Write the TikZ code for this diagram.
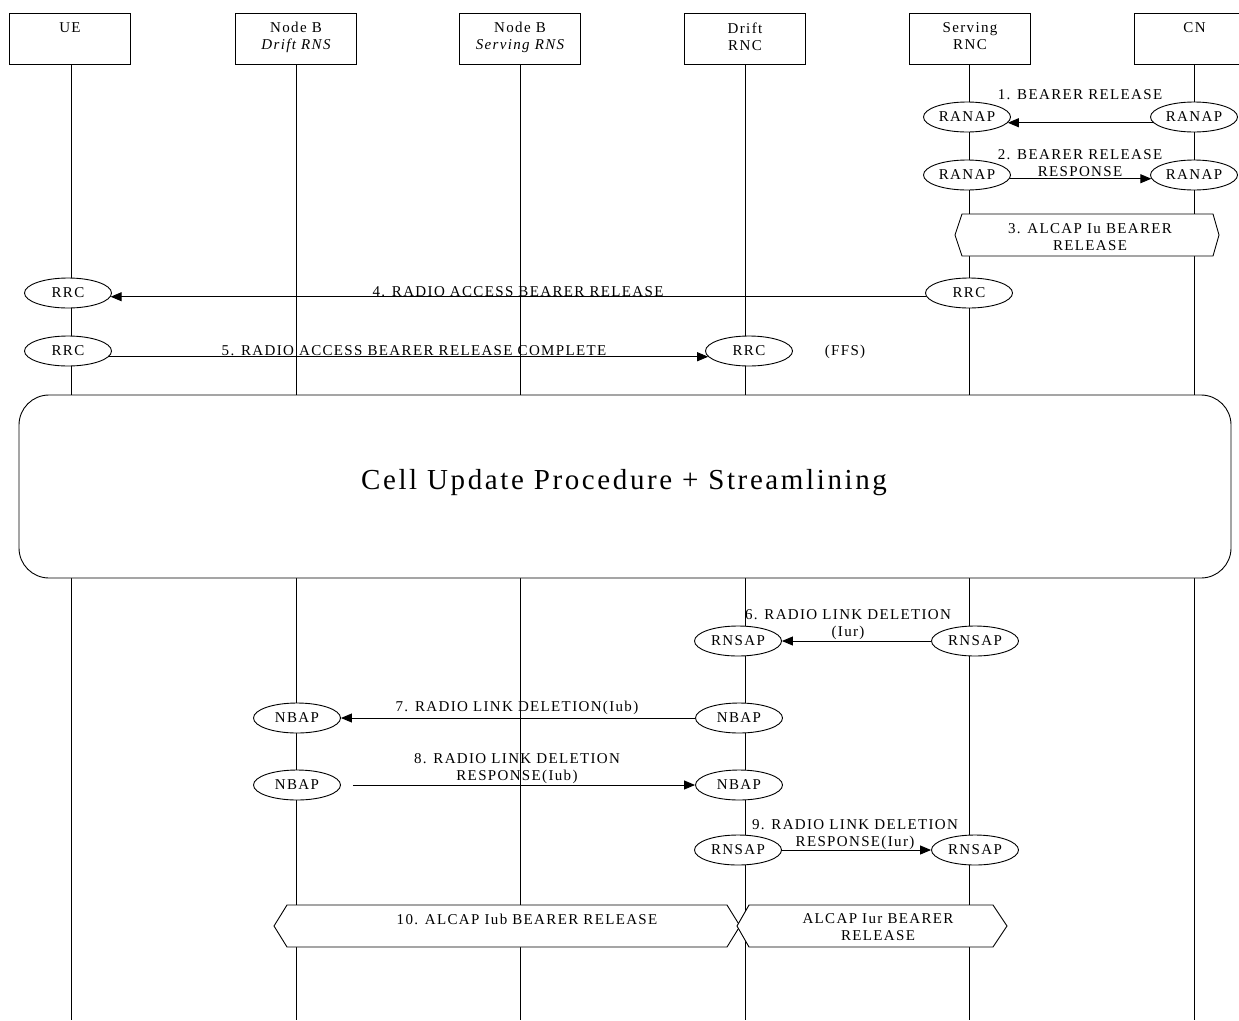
\documentclass[tikz,border=0pt]{standalone}
\usepackage{fontspec}
\setmainfont{Liberation Serif}[LetterSpace=9]
\usetikzlibrary{arrows.meta,shapes.geometric}
\begin{document}
\begin{tikzpicture}[x=1pt,y=-1pt,
  font=\fontsize{15}{17}\selectfont,
  every path/.style={line width=0.9pt},
  actor/.style={draw, fill=white, minimum width=121pt, minimum height=51pt, inner sep=0pt},
  atext/.style={anchor=north, align=center, inner sep=0pt},
  proto/.style={ellipse, draw, fill=white, minimum width=87pt, minimum height=30pt, inner sep=0pt},
  msg/.style={-{Triangle[length=11pt,width=9pt]}},
  lbl/.style={anchor=north, align=center, inner sep=0pt},
  slbl/.style={anchor=base, inner sep=0pt},
  hexa/.style={draw, fill=white},
]
\useasboundingbox (0,0) rectangle (1239,1020);

% actors
\node[actor] (ue) at (70,38.5) {};
\node[actor] (nbd) at (296,38.5) {};
\node[actor] (nbs) at (520,38.5) {};
\node[actor] (drnc) at (745,38.5) {};
\node[actor] (srnc) at (970,38.5) {};
\node[actor] (cn) at (1194.5,38.5) {};
\node[atext] (uet) at (70,22) {UE};
\node[atext] (nbdt) at (296,22) {Node B\\\itshape Drift RNS};
\node[atext] (nbst) at (520,22) {Node B\\\itshape Serving RNS};
\node[atext] (drnct) at (745,22) {Drift\\RNC};
\node[atext] (srnct) at (970,22) {Serving\\RNC};
\node[atext] (cnt) at (1194.5,22) {CN};

% lifelines
\foreach \x in {71,296,520,745,969,1194}{
  \draw (\x,64) -- (\x,1020);
}

% big procedure box
\node[draw, fill=white, rounded corners=30pt, minimum width=1212pt, minimum height=183pt, inner sep=0pt] (cup) at (625,486.5) {};
\node[anchor=base, inner sep=0pt, font=\fontsize{29}{33}\selectfont] (cupt) at (624,489.5) {Cell Update Procedure + Streamlining};

% message 1
\node[proto] (s1) at (967,117) {RANAP};
\node[proto] (c1) at (1194,117) {RANAP};
\draw[msg] (c1.188.56) -- (s1.-8.56);
\node[lbl] (l1) at (1080,89) {1. BEARER RELEASE};

% message 2
\node[proto] (s2) at (967,175) {RANAP};
\node[proto] (c2) at (1194,175) {RANAP};
\draw[msg] (s2.-5.45) -- (c2.185.45);
\node[lbl] (l2) at (1080,149) {2. BEARER RELEASE\\RESPONSE};

% 3 hexagon
\draw[hexa] (955,235) -- (962,214) -- (1213,214) -- (1219,235) -- (1213,256) -- (962,256) -- cycle;
\node[lbl] (l3) at (1090,223) {3. ALCAP Iu BEARER\\RELEASE};

% message 4
\node[proto] (u4) at (68,293) {RRC};
\node[proto] (s4) at (969,293) {RRC};
\draw[msg] (s4.185.45) -- (u4.-5.45);
\node[slbl] (l4) at (518,296) {4. RADIO ACCESS BEARER RELEASE};

% message 5
\node[proto] (u5) at (68,351) {RRC};
\node[proto] (d5) at (749,351) {RRC};
\draw[msg] (u5.-8.56) -- (d5.188.56);
\node[slbl] (l5) at (414,355) {5. RADIO ACCESS BEARER RELEASE COMPLETE};
\node[slbl] (ffs) at (845,355) {(FFS)};

% message 6
\node[proto] (d6) at (738,641) {RNSAP};
\node[proto] (s6) at (975,641) {RNSAP};
\draw[msg] (s6.west) -- (d6.east);
\node[lbl] (l6) at (848,609) {6. RADIO LINK DELETION\\(Iur)};

% message 7
\node[proto] (n7) at (297,718) {NBAP};
\node[proto] (d7) at (739,718) {NBAP};
\draw[msg] (d7.west) -- (n7.east);
\node[lbl] (l7) at (517,701) {7. RADIO LINK DELETION(Iub)};

% message 8
\node[proto] (n8) at (297,785) {NBAP};
\node[proto] (d8) at (739,785) {NBAP};
\draw[msg, shorten <=12pt] (n8.east) -- (d8.west);
\node[lbl] (l8) at (517,753) {8. RADIO LINK DELETION\\RESPONSE(Iub)};

% message 9
\node[proto] (d9) at (738,850) {RNSAP};
\node[proto] (s9) at (975,850) {RNSAP};
\draw[msg] (d9.east) -- (s9.west);
\node[lbl] (l9) at (855,819) {9. RADIO LINK DELETION\\RESPONSE(Iur)};

% 10 hexagons
\draw[hexa] (274,926) -- (287,905) -- (727,905) -- (740,926) -- (727,947) -- (287,947) -- cycle;
\node[slbl] (l10) at (527,924) {10. ALCAP Iub BEARER RELEASE};
\draw[hexa] (737,926) -- (749,905) -- (993,905) -- (1007,926) -- (993,947) -- (749,947) -- cycle;
\node[lbl] (l11) at (878,913) {ALCAP Iur BEARER\\RELEASE};
\end{tikzpicture}
\end{document}
